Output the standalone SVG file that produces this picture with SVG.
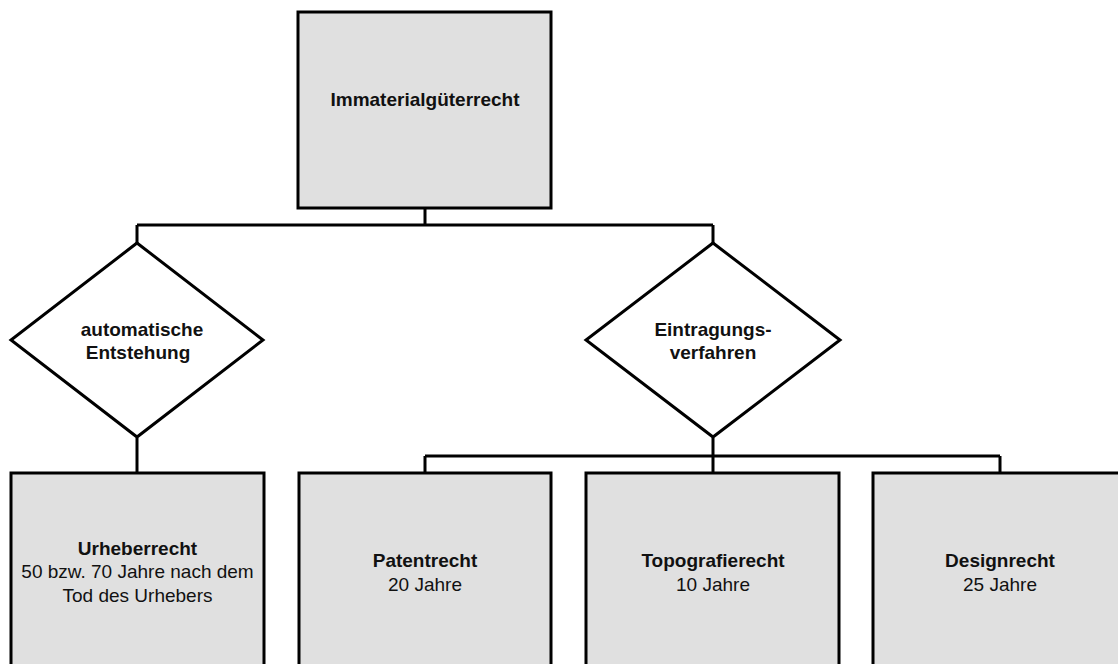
<svg xmlns="http://www.w3.org/2000/svg" width="1118" height="664" viewBox="0 0 1118 664">
  <style>
    .box { fill: #e0e0e0; stroke: #000; stroke-width: 3; }
    .dia { fill: #fff; stroke: #000; stroke-width: 3; stroke-linejoin: miter; }
    .wire { fill: none; stroke: #000; stroke-width: 3; }
    text { font-family: "Liberation Sans", Arial, sans-serif; font-size: 19px; fill: #111; text-anchor: middle; }
    .b { font-weight: bold; }
  </style>
  <rect width="1118" height="664" fill="#fff"/>

  <g id="connectors">
    <path class="wire" d="M425 208 V225 M137 225 H713 M137 225 V243 M713 225 V243"/>
    <path class="wire" d="M137 438 V473"/>
    <path class="wire" d="M713 438 V473 M425 456 H1000 M425 456 V473 M1000 456 V473"/>
  </g>

  <g id="root">
    <rect class="box" x="298" y="12" width="253" height="196"/>
    <text class="b" x="425" y="106">Immaterialgüterrecht</text>
  </g>

  <g id="decision-auto">
    <polygon class="dia" points="137,243 263,340 137,437 11,340"/>
    <text class="b" x="142" y="336">automatische</text>
    <text class="b" x="138" y="359">Entstehung</text>
  </g>

  <g id="decision-register">
    <polygon class="dia" points="713,243 840,340 713,437 586,340"/>
    <text class="b" x="713" y="336">Eintragungs-</text>
    <text class="b" x="713" y="359">verfahren</text>
  </g>

  <g id="urheberrecht">
    <rect class="box" x="11" y="473" width="253" height="210"/>
    <text class="b" x="137.5" y="555">Urheberrecht</text>
    <text x="137.5" y="578">50 bzw. 70 Jahre nach dem</text>
    <text x="137.5" y="602">Tod des Urhebers</text>
  </g>

  <g id="patentrecht">
    <rect class="box" x="299" y="473" width="252" height="210"/>
    <text class="b" x="425" y="567">Patentrecht</text>
    <text x="425" y="591">20 Jahre</text>
  </g>

  <g id="topografierecht">
    <rect class="box" x="586" y="473" width="253" height="210"/>
    <text class="b" x="713" y="567">Topografierecht</text>
    <text x="713" y="591">10 Jahre</text>
  </g>

  <g id="designrecht">
    <rect class="box" x="873" y="473" width="253" height="210"/>
    <text class="b" x="1000" y="567">Designrecht</text>
    <text x="1000" y="591">25 Jahre</text>
  </g>
</svg>
